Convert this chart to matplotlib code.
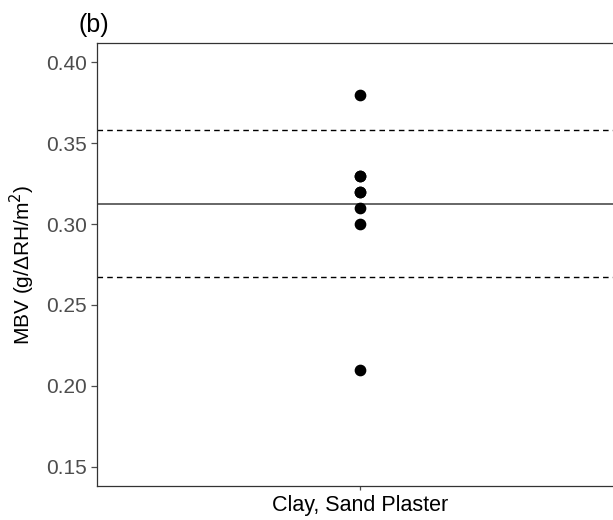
import numpy as np
import matplotlib.pyplot as plt

# Dane
category = "Clay, Sand Plaster"
mbv = [0.38, 0.33, 0.33, 0.32, 0.32, 0.31, 0.30, 0.21]
mean_line = 0.3125
upper_line = 0.358
lower_line = 0.267
yticks = [0.15, 0.20, 0.25, 0.30, 0.35, 0.40]

plt.rcParams['font.family'] = ['Liberation Sans', 'DejaVu Sans']

fig = plt.figure(figsize=(6.13, 5.2), dpi=100)
ax = fig.add_axes([97 / 613, 34 / 520, 526 / 613, 443 / 520])

ax.scatter([category] * len(mbv), mbv, s=55, color="black", zorder=3)
ax.axhline(mean_line, color="#4d4d4d", lw=1.2)
ax.axhline(upper_line, color="black", lw=1.0, ls=(0, (4, 3)))
ax.axhline(lower_line, color="black", lw=1.0, ls=(0, (4, 3)))

ax.set_xlim(-0.5, 0.5)
ax.set_ylim(0.138, 0.412)
ax.set_yticks(yticks)
ax.set_yticklabels([f"{v:.2f}" for v in yticks])

for s in ax.spines.values():
    s.set_color("#333333")
    s.set_linewidth(0.9)
ax.spines["right"].set_visible(False)

ax.tick_params(axis="y", colors="#4d4d4d", labelsize=15, length=4, width=0.9)
ax.tick_params(axis="x", colors="#4d4d4d", labelsize=15.5, length=3, width=0.9,
               labelcolor="black")
ax.set_ylabel("MBV (g/\u0394RH/m$^2$)", fontsize=15, labelpad=6)
fig.text(78 / 613, 1 - 25 / 520, "(b)", fontsize=18, va="center", ha="left")

fig.savefig("out.png", dpi=100)
